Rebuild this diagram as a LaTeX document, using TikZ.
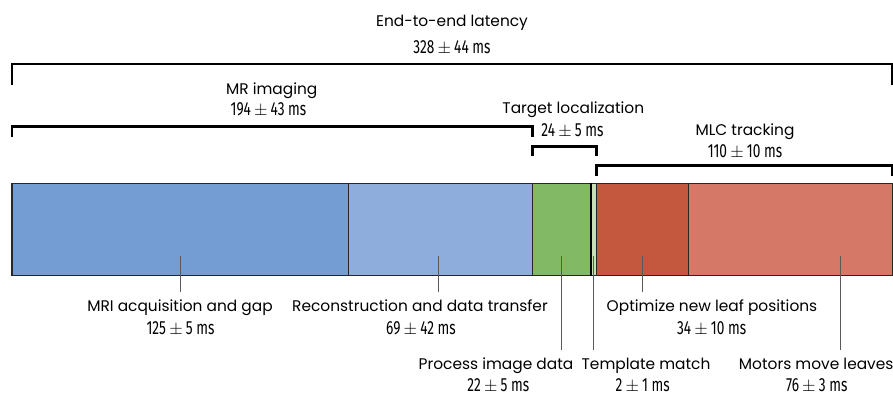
\documentclass[tikz,border=0pt]{standalone}
\usepackage{fontspec}
\setmainfont{Poppins}
\newfontfamily\numfont[FakeStretch=0.72]{Fira Sans}
\definecolor{cmri}{HTML}{749ED3}
\definecolor{crec}{HTML}{8EADDD}
\definecolor{cproc}{HTML}{82B964}
\definecolor{ctmpl}{HTML}{C8E0B4}
\definecolor{copt}{HTML}{C4583E}
\definecolor{cmot}{HTML}{D67868}
\tikzset{
  seg/.style={draw=black!85, line width=1.5pt, inner sep=0pt, outer sep=0pt, anchor=north west, minimum height=92.4pt},
  brk/.style={draw=black, line width=2.6pt, line cap=butt, line join=miter},
  lead/.style={draw=black!65, line width=0.9pt},
  word/.style={font=\fontsize{15.4}{18}\selectfont, anchor=base, inner sep=0pt, text height=11pt, text depth=3pt},
  num/.style={font=\numfont\fontsize{19}{21}\selectfont, anchor=base, inner sep=0pt, text height=8pt, text depth=0pt},
}
\newcommand{\pmv}{\,$\pm$\,}
\begin{document}
\begin{tikzpicture}[x=1pt,y=-1pt]
\useasboundingbox (0,0) rectangle (893,400);
% bar segments
\node[seg, fill=cmri, minimum width=336.8pt] (s1) at (11.8,183.3) {};
\node[seg, fill=crec, minimum width=183.7pt] (s2) at (348.6,183.3) {};
\node[seg, fill=cproc, minimum width=58.4pt] (s3) at (532.3,183.3) {};
\node[seg, fill=ctmpl, minimum width=6.0pt] (s4) at (590.7,183.3) {};
\node[seg, fill=copt, minimum width=91.6pt] (s5) at (596.7,183.3) {};
\node[seg, fill=cmot, minimum width=204.0pt] (s6) at (688.3,183.3) {};
\draw[black, line width=2pt] (s4.north west) -- (s4.south west);
% brackets
\coordinate (e1) at (12,85); \coordinate (e2) at (892,85);
\draw[brk] (e1) |- (452,64) -| (e2);
\coordinate (m1) at (12,137); \coordinate (m2) at (532.3,137);
\draw[brk] (m1) |- (272,126.5) -| (m2);
\coordinate (t1) at (532.3,156); \coordinate (t2) at (596.7,156);
\draw[brk] (t1) |- (565,146.5) -| (t2);
\coordinate (l1) at (596.7,175.5); \coordinate (l2) at (892,175.5);
\draw[brk] (l1) |- (745,165.5) -| (l2);
% top labels
\node[word] (tE) at (452,26.5) {End-to-end latency};
\node[num] (nE) at (452,53) {328\pmv44 ms};
\node[word] (tM) at (271.7,94) {MR imaging};
\node[num] (nM) at (268.5,115) {194\pmv43 ms};
\node[word] (tT) at (573.3,113.3) {Target localization};
\node[num] (nT) at (572.5,136.7) {24\pmv5 ms};
\node[word] (tL) at (745,135) {MLC tracking};
\node[num] (nL) at (745,157.3) {110\pmv10 ms};
% leader lines
\coordinate (a1) at (180,256); \coordinate (b1) at (180,292);
\coordinate (a2) at (438.3,256); \coordinate (b2) at (438.3,292);
\coordinate (a3) at (561.7,256); \coordinate (b3) at (561.7,350);
\coordinate (a4) at (593.7,256); \coordinate (b4) at (593.7,350);
\coordinate (a5) at (642.3,256); \coordinate (b5) at (642.3,292);
\coordinate (a6) at (840,256); \coordinate (b6) at (840,350);
\foreach \i in {1,...,6} {\draw[lead] (a\i) -- (b\i);}
% bottom labels
\node[word] (w1) at (180,311.7) {MRI acquisition and gap};
\node[num] (v1) at (180.5,334) {125\pmv5 ms};
\node[word] (w2) at (420,311.7) {Reconstruction and data transfer};
\node[num] (v2) at (421,334) {69\pmv42 ms};
\node[word] (w5) at (712,311.7) {Optimize new leaf positions};
\node[num] (v5) at (711.7,334) {34\pmv10 ms};
\node[word] (w3) at (496,369) {Process image data};
\node[num] (v3) at (498.3,391.7) {22\pmv5 ms};
\node[word] (w4) at (646,369) {Template match};
\node[num] (v4) at (642.7,391.7) {2\pmv1 ms};
\node[word] (w6) at (816.2,369) {Motors move leaves};
\node[num] (v6) at (816.7,391.7) {76\pmv3 ms};
\end{tikzpicture}
\end{document}
